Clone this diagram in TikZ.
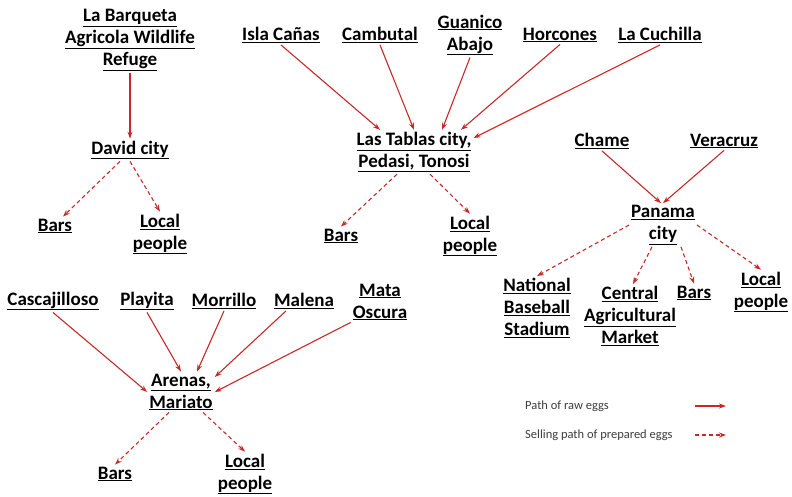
\documentclass[tikz,border=0pt]{standalone}
\usepackage{fontspec}
\setmainfont{Carlito}
\usetikzlibrary{arrows.meta}
\definecolor{eggred}{RGB}{200,40,40}
\definecolor{legendgray}{RGB}{60,60,60}
\newcommand{\uln}[1]{\underline{#1}}
\lineskiplimit=-30pt

\begin{document}
\begin{tikzpicture}[x=1pt, y=-1pt,
	place/.style={font=\fontsize{19}{22}\selectfont\bfseries, align=center, inner sep=2pt},
	legendtext/.style={font=\fontsize{12.5}{14}\selectfont, text=legendgray, anchor=west, inner sep=0pt},
	raw/.style={draw=eggred, line width=1.1pt, -{Stealth[length=7pt, width=5pt]}},
	sold/.style={raw, dash pattern=on 4pt off 3pt}]
		\useasboundingbox (0,0) rectangle (792,496);
		
		% David city
		\node[place] (barqueta) at (130,40) {\uln{La Barqueta}\\\uln{Agricola Wildlife}\\\uln{Refuge}};
		\node[place] (david) at (130,150) {\uln{David city}};
		\node[place] (davidbars) at (55,226) {\uln{Bars}};
		\node[place] (davidlocal) at (160,234) {\uln{Local}\\\uln{people}};
		\draw[raw] (barqueta) -- (david);
		\draw[sold] ([xshift=-10pt]david.south) -- ([xshift=8pt]davidbars.north);
		\draw[sold] (david.south) -- (davidlocal.north);
		
		% Las Tablas
		\node[place] (isla) at (281,35) {\uln{Isla Cañas}};
		\node[place] (cambutal) at (380,35) {\uln{Cambutal}};
		\node[place] (guanico) at (470,35) {\uln{Guanico}\\\uln{Abajo}};
		\node[place] (horcones) at (560,35) {\uln{Horcones}};
		\node[place] (cuchilla) at (660,35) {\uln{La Cuchilla}};
		\node[place] (tablas) at (414,152) {\uln{Las Tablas city,}\\\uln{Pedasi, Tonosi}};
		\node[place] (tablasbars) at (341,236) {\uln{Bars}};
		\node[place] (tablaslocal) at (470,236) {\uln{Local}\\\uln{people}};
		\draw[raw] (isla.south) -- ([xshift=-34pt]tablas.north);
		\draw[raw] (cambutal.south) -- (tablas.north);
		\draw[raw] (guanico.south) -- ([xshift=28pt]tablas.north);
		\draw[raw] (horcones.south) -- ([xshift=47pt]tablas.north);
		\draw[raw] (cuchilla.south) -- ([yshift=14pt]tablas.east);
		\draw[sold] ([xshift=-17pt]tablas.south) -- (tablasbars.north);
		\draw[sold] ([xshift=16pt]tablas.south) -- (tablaslocal.north);
		
		% Panama city
		\node[place] (chame) at (602,141) {\uln{Chame}};
		\node[place] (veracruz) at (724,141) {\uln{Veracruz}};
		\node[place] (panama) at (663,225) {\uln{Panama}\\\uln{city}};
		\node[place] (stadium) at (537,308) {\uln{National}\\\uln{Baseball}\\\uln{Stadium}};
		\node[place] (market) at (630,316) {\uln{Central}\\\uln{Agricultural}\\\uln{Market}};
		\node[place] (panamabars) at (694,293) {\uln{Bars}};
		\node[place] (panamalocal) at (761,292) {\uln{Local}\\\uln{people}};
		\draw[raw] (chame.south) -- ([xshift=-2pt]panama.north);
		\draw[raw] (veracruz.south) -- (panama.north);
		\draw[sold] (panama.west) -- (stadium.north);
		\draw[sold] ([xshift=-11pt]panama.south) -- ([xshift=3pt]market.north);
		\draw[sold] ([xshift=18pt]panama.south) -- (panamabars.north);
		\draw[sold] (panama.east) -- (panamalocal.north);
		
		% Arenas, Mariato
		\node[place] (cascajilloso) at (53,301) {\uln{Cascajilloso}};
		\node[place] (playita) at (147,301) {\uln{Playita}};
		\node[place] (morrillo) at (224,301) {\uln{Morrillo}};
		\node[place] (malena) at (304,301) {\uln{Malena}};
		\node[place] (mata) at (380,302) {\uln{Mata}\\\uln{Oscura}};
		\node[place] (arenas) at (181,392) {\uln{Arenas,}\\\uln{Mariato}};
		\node[place] (arenasbars) at (115,474) {\uln{Bars}};
		\node[place] (arenaslocal) at (245,474) {\uln{Local}\\\uln{people}};
		\draw[raw] (cascajilloso.south) -- (arenas.west);
		\draw[raw] (playita.south) -- (arenas.north);
		\draw[raw] (morrillo.south) -- ([xshift=16pt]arenas.north);
		\draw[raw] ([xshift=-18pt]malena.south) -- ([yshift=15pt]arenas.east);
		\draw[raw] (mata.south west) -- (arenas.east);
		\draw[sold] ([xshift=-12pt]arenas.south) -- (arenasbars.north);
		\draw[sold] ([xshift=22pt]arenas.south) -- (arenaslocal.north);
		
		% legend
		\node[legendtext] (rawtext) at (525,406) {Path of raw eggs};
		\node[legendtext] (soldtext) at (525,435) {Selling path of prepared eggs};
		\coordinate (rawstart) at (695,406);
		\coordinate (rawend) at (726,406);
		\coordinate (soldstart) at (695,435);
		\coordinate (soldend) at (726,435);
		\draw[raw] (rawstart) -- (rawend);
		\draw[sold] (soldstart) -- (soldend);
\end{tikzpicture}
\end{document}
